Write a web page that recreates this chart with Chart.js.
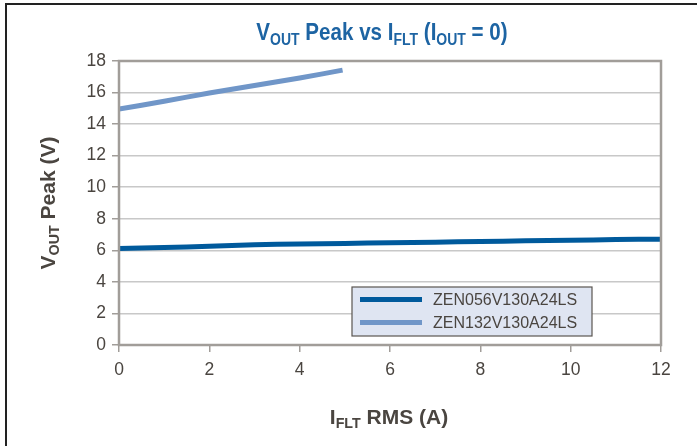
<!DOCTYPE html>
<html>
<head>
<meta charset="utf-8">
<script src="https://cdn.jsdelivr.net/npm/chart.js@4/dist/chart.umd.min.js"></script>
<style>
  html, body { margin: 0; padding: 0; background: #fff; }
  #wrap { width: 697px; height: 446px; }
</style>
</head>
<body>
<div id="wrap"><canvas id="myChart" width="697" height="446"></canvas></div>
<script>
// data
const xTicks = [0, 2, 4, 6, 8, 10, 12];
const yTicks = [0, 2, 4, 6, 8, 10, 12, 14, 16, 18];

const zen056X = [0, 1, 2, 3, 4, 5, 6, 7, 8, 9, 10, 11, 12];
const zen056Y = [6.12, 6.18, 6.26, 6.35, 6.4, 6.44, 6.48, 6.52, 6.56, 6.6, 6.64, 6.68, 6.71];

const zen132X = [0, 1, 2, 3, 4, 4.95];
const zen132Y = [14.95, 15.45, 15.97, 16.45, 16.92, 17.42];

const seriesNames = ['ZEN056V130A24LS', 'ZEN132V130A24LS'];
const seriesColors = ['#005a9c', '#7096c8'];

const textColor = '#4a4540';
const titleColor = '#1d64a3';
const frameColor = '#a19d99';
const sans = '"Liberation Sans", Arial, sans-serif';

function toPoints(xs, ys) {
    return xs.map((x, i) => ({ x: x, y: ys[i] }));
}

// draws text with subscript parts, [text, isSub]; sx squeezes it horizontally
function drawRich(ctx, parts, x, y, size, color, sx) {
    ctx.save();
    ctx.fillStyle = color;
    ctx.textBaseline = 'alphabetic';
    ctx.textAlign = 'left';
    let total = 0;
    parts.forEach(p => {
        ctx.font = 'bold ' + (p[1] ? size * 0.68 : size) + 'px ' + sans;
        total += ctx.measureText(p[0]).width;
    });
    ctx.translate(x, y);
    ctx.scale(sx, 1);
    let cx = -total / 2;
    parts.forEach(p => {
        ctx.font = 'bold ' + (p[1] ? size * 0.68 : size) + 'px ' + sans;
        ctx.fillText(p[0], cx, p[1] ? size * 0.2 : 0);
        cx += ctx.measureText(p[0]).width;
    });
    ctx.restore();
}

const decorPlugin = {
    id: 'decor',
    beforeDraw(chart) {
        const ctx = chart.ctx;
        ctx.save();
        // outer frame
        ctx.strokeStyle = '#222';
        ctx.lineWidth = 2;
        ctx.beginPath();
        ctx.moveTo(6, 446);
        ctx.lineTo(6, 4);
        ctx.lineTo(697, 4);
        ctx.stroke();
        ctx.restore();
    },
    afterDatasetsDraw(chart) {
        const ctx = chart.ctx;
        const a = chart.chartArea;
        ctx.save();
        ctx.strokeStyle = frameColor;
        ctx.lineWidth = 2.5;
        ctx.strokeRect(a.left, a.top, a.right - a.left, a.bottom - a.top);
        ctx.restore();
    },
    afterDraw(chart) {
        const ctx = chart.ctx;
        const a = chart.chartArea;

        drawRich(ctx, [['V', false], ['OUT', true], [' Peak vs I', false], ['FLT', true],
            [' (I', false], ['OUT', true], [' = 0)', false]], 382, 40, 24.5, titleColor, 0.84);

        drawRich(ctx, [['I', false], ['FLT', true], [' RMS (A)', false]], 389, 424, 21, textColor, 1);

        ctx.save();
        ctx.translate(55, (a.top + a.bottom) / 2);
        ctx.rotate(-Math.PI / 2);
        drawRich(ctx, [['V', false], ['OUT', true], [' Peak (V)', false]], 0, 0, 21, textColor, 1);
        ctx.restore();

        // legend box
        ctx.save();
        ctx.fillStyle = '#dfe5f2';
        ctx.fillRect(352, 287, 240, 49);
        ctx.strokeStyle = '#5a5550';
        ctx.lineWidth = 1.2;
        ctx.strokeRect(352, 287, 240, 49);
        ctx.font = '16px ' + sans;
        ctx.textBaseline = 'middle';
        seriesNames.forEach((name, i) => {
            const y = 299.5 + i * 23;
            ctx.strokeStyle = seriesColors[i];
            ctx.lineWidth = 5;
            ctx.beginPath();
            ctx.moveTo(360, y);
            ctx.lineTo(422, y);
            ctx.stroke();
            ctx.fillStyle = textColor;
            ctx.fillText(name, 433, y + 1);
        });
        ctx.restore();
    }
};

const ctx = document.getElementById('myChart').getContext('2d');
new Chart(ctx, {
    type: 'scatter',
    data: {
        datasets: [
            {
                label: seriesNames[0],
                data: toPoints(zen056X, zen056Y),
                showLine: true,
                borderColor: seriesColors[0],
                borderWidth: 5,
                pointRadius: 0,
                tension: 0.3
            },
            {
                label: seriesNames[1],
                data: toPoints(zen132X, zen132Y),
                showLine: true,
                borderColor: seriesColors[1],
                borderWidth: 5,
                pointRadius: 0,
                tension: 0.3
            }
        ]
    },
    options: {
        responsive: false,
        animation: false,
        devicePixelRatio: 1,
        layout: { padding: { left: 0, top: 61, right: 36, bottom: 0 } },
        plugins: {
            legend: { display: false },
            tooltip: { enabled: false },
            title: { display: false }
        },
        scales: {
            x: {
                type: 'linear',
                min: 0,
                max: 12,
                afterBuildTicks: s => { s.ticks = xTicks.map(v => ({ value: v })); },
                afterFit: s => { s.height = 101; },
                ticks: { color: textColor, font: { family: sans, size: 17.5 }, padding: 8 },
                grid: { display: true, drawOnChartArea: false, tickLength: 7, tickColor: frameColor, lineWidth: 1.5 },
                border: { display: false }
            },
            y: {
                type: 'linear',
                min: 0,
                max: 18,
                afterBuildTicks: s => { s.ticks = yTicks.map(v => ({ value: v })); },
                afterFit: s => { s.width = 119; },
                ticks: { color: textColor, font: { family: sans, size: 17.5 }, padding: 6 },
                grid: { color: '#c8c8c8', lineWidth: 1.5, tickLength: 7, tickColor: frameColor },
                border: { display: false }
            }
        }
    },
    plugins: [decorPlugin]
});
</script>
</body>
</html>
